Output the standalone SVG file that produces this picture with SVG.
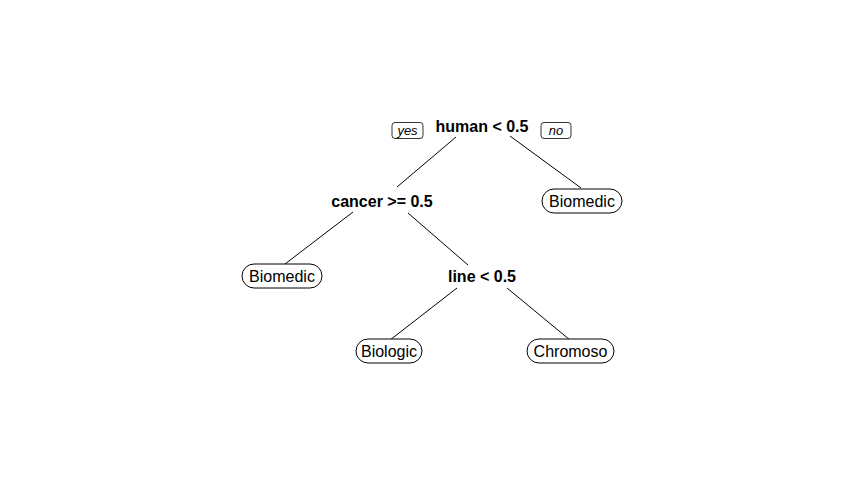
<svg xmlns="http://www.w3.org/2000/svg" width="864" height="480" viewBox="0 0 864 480">
<style>
.split{font-family:"Liberation Sans",Arial,sans-serif;font-weight:bold;font-size:16px;text-anchor:middle;fill:#000}
.leaf text{font-family:"Liberation Sans",Arial,sans-serif;font-size:16px;text-anchor:middle;fill:#000}
.leaf rect{fill:#fff;stroke:#000;stroke-width:1}
.lab rect{fill:#fff;stroke:#000;stroke-width:0.8}
.lab text{font-family:"Liberation Sans",Arial,sans-serif;font-style:italic;font-size:13px;text-anchor:middle;fill:#000}
#connectors line{stroke:#000;stroke-width:1}
</style>
<rect width="864" height="480" fill="#fff"/>
<g id="connectors">
<line x1="456" y1="137" x2="397" y2="187"/>
<line x1="510" y1="136" x2="581" y2="188"/>
<line x1="353" y1="212" x2="285" y2="264"/>
<line x1="408" y1="213" x2="468" y2="265"/>
<line x1="457" y1="288" x2="390" y2="340"/>
<line x1="507" y1="288" x2="570" y2="340"/>
</g>
<g id="n1"><text class="split" x="482" y="132">human &lt; 0.5</text></g>
<g id="yes" class="lab"><rect x="392" y="122.5" width="31" height="16" rx="3"/><text x="407.5" y="135">yes</text></g>
<g id="no" class="lab"><rect x="541" y="122.5" width="30" height="16" rx="3"/><text x="556" y="135">no</text></g>
<g id="n2"><text class="split" x="382" y="207">cancer &gt;= 0.5</text></g>
<g id="n3" class="leaf"><rect x="542" y="189" width="80" height="24" rx="12"/><text x="582" y="207">Biomedic</text></g>
<g id="n4" class="leaf"><rect x="242" y="264" width="80" height="24" rx="12"/><text x="282" y="282">Biomedic</text></g>
<g id="n5"><text class="split" x="482" y="282">line &lt; 0.5</text></g>
<g id="n6" class="leaf"><rect x="356" y="339" width="66" height="24" rx="12"/><text x="389" y="357">Biologic</text></g>
<g id="n7" class="leaf"><rect x="527" y="339" width="87" height="24" rx="12"/><text x="570.5" y="357">Chromoso</text></g>
</svg>
